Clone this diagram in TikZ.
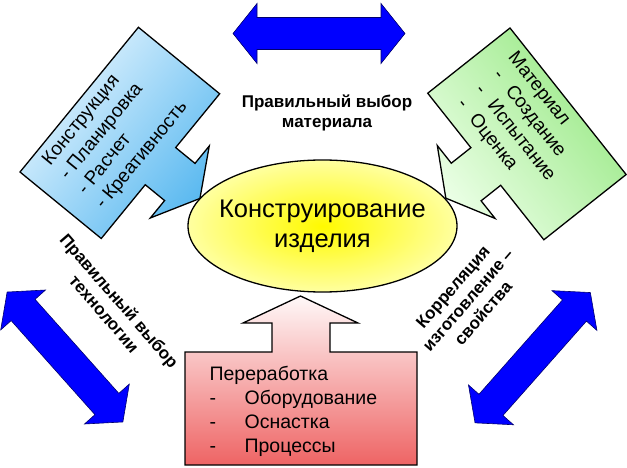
\documentclass[tikz,border=0pt]{standalone}
\usepackage{fontspec}
\setmainfont{Liberation Sans}
\usetikzlibrary{positioning, shapes.geometric}

\definecolor{arrowblue}{RGB}{0,0,255}
\definecolor{arrowedge}{RGB}{0,0,110}
\definecolor{blueA}{RGB}{232,246,255}
\definecolor{blueB}{RGB}{90,185,240}
\definecolor{greenA}{RGB}{150,232,130}
\definecolor{greenB}{RGB}{235,255,230}
\definecolor{redA}{RGB}{255,248,248}
\definecolor{redB}{RGB}{238,100,100}
\definecolor{ovalA}{RGB}{255,250,0}
\definecolor{ovalB}{RGB}{255,255,160}

% big two-headed arrow: centre, angle, half length
\newcommand{\dblarrow}[3]{%
  \begin{scope}[shift={#1}, rotate=#2]
    \path[bigarrow] (-#3,0) -- (-#3+24,30) -- (-#3+24,16) -- (#3-24,16) -- (#3-24,30)
      -- (#3,0) -- (#3-24,-30) -- (#3-24,-16) -- (-#3+24,-16) -- (-#3+24,-30) -- cycle;
  \end{scope}}

\begin{document}
\begin{tikzpicture}[x=1pt, y=-1pt,
    bigarrow/.style={fill=arrowblue, draw=arrowedge, line width=0.6pt},
    callout/.style={draw=black, line width=1.3pt},
    oval/.style={ellipse, draw=black, line width=1.3pt, minimum width=269pt, minimum height=132pt,
      inner color=ovalA, outer color=ovalB},
    ovaltext/.style={align=center, inner sep=0pt, font=\fontsize{25.5}{30}\selectfont},
    boxtext/.style={anchor=north west, inner sep=0pt, align=left, font=\fontsize{19}{23}\selectfont},
    linklabel/.style={align=center, inner sep=0pt, font=\bfseries\fontsize{17}{20}\selectfont}]

    \useasboundingbox (0,0) rectangle (627,468);

    % Double arrows
    \dblarrow{(319,33.5)}{0}{86}
    \dblarrow{(65,357)}{-48.3}{87}
    \dblarrow{(532.7,357.7)}{48.5}{87}

    % Centre
    \node[oval] (design) at (322.5,226) {};
    \node[ovaltext] (designtext) at (design.center) {Конструирование\\изделия};

    % Callouts
    \begin{scope}[shift={(20,172)}, rotate=50.7, transform shape]
        \path[callout, top color=blueA, bottom color=blueB, shading angle=50.7]
            (0,0) -- (187,0) -- (187,105) -- (117.5,105) -- (117.5,130) -- (140,130)
            -- (93.5,156) -- (47,130) -- (69.5,130) -- (69.5,105) -- (0,105) -- cycle;
        \node[boxtext] (constr) at (23.5,6.5) {Конструкция\\- Планировка\\- Расчет\\- Креативность};
    \end{scope}

    \begin{scope}[shift={(510,28)}, rotate=-51.6, transform shape]
        \path[callout, top color=greenA, bottom color=greenB, shading angle=-51.6]
            (0,0) -- (187,0) -- (187,105) -- (117.5,105) -- (117.5,130) -- (140,130)
            -- (93.5,156) -- (47,130) -- (69.5,130) -- (69.5,105) -- (0,105) -- cycle;
        \node[boxtext] (mat) at (21.5,7) {Материал\\\makebox[24.5pt][l]{\hspace{5pt}-}Создание\\
            \makebox[24.5pt][l]{\hspace{5pt}-}Испытание\\\makebox[24.5pt][l]{\hspace{5pt}-}Оценка};
    \end{scope}

    \path[callout, top color=redA, bottom color=redB]
        (185,352) -- (272,352) -- (272,323) -- (243,323) -- (300.5,296) -- (358,323)
        -- (330,323) -- (330,352) -- (417,352) -- (417,465) -- (185,465) -- cycle;
    \node[boxtext, font=\fontsize{19.5}{24}\selectfont] (proc) at (209.4,366) {Переработка\\
        \makebox[35pt][l]{-}Оборудование\\\makebox[35pt][l]{-}Оснастка\\\makebox[35pt][l]{-}Процессы};

    % Labels
    \node[linklabel] (matchoice) at (327,113) {Правильный выбор\\материала};
    \node[linklabel, rotate=-49] (techchoice) at (112,307) {Правильный выбор\\технологии};
    \node[linklabel, rotate=49] (correl) at (468,300) {Корреляция\\изготовление –\\свойства};
\end{tikzpicture}
\end{document}
